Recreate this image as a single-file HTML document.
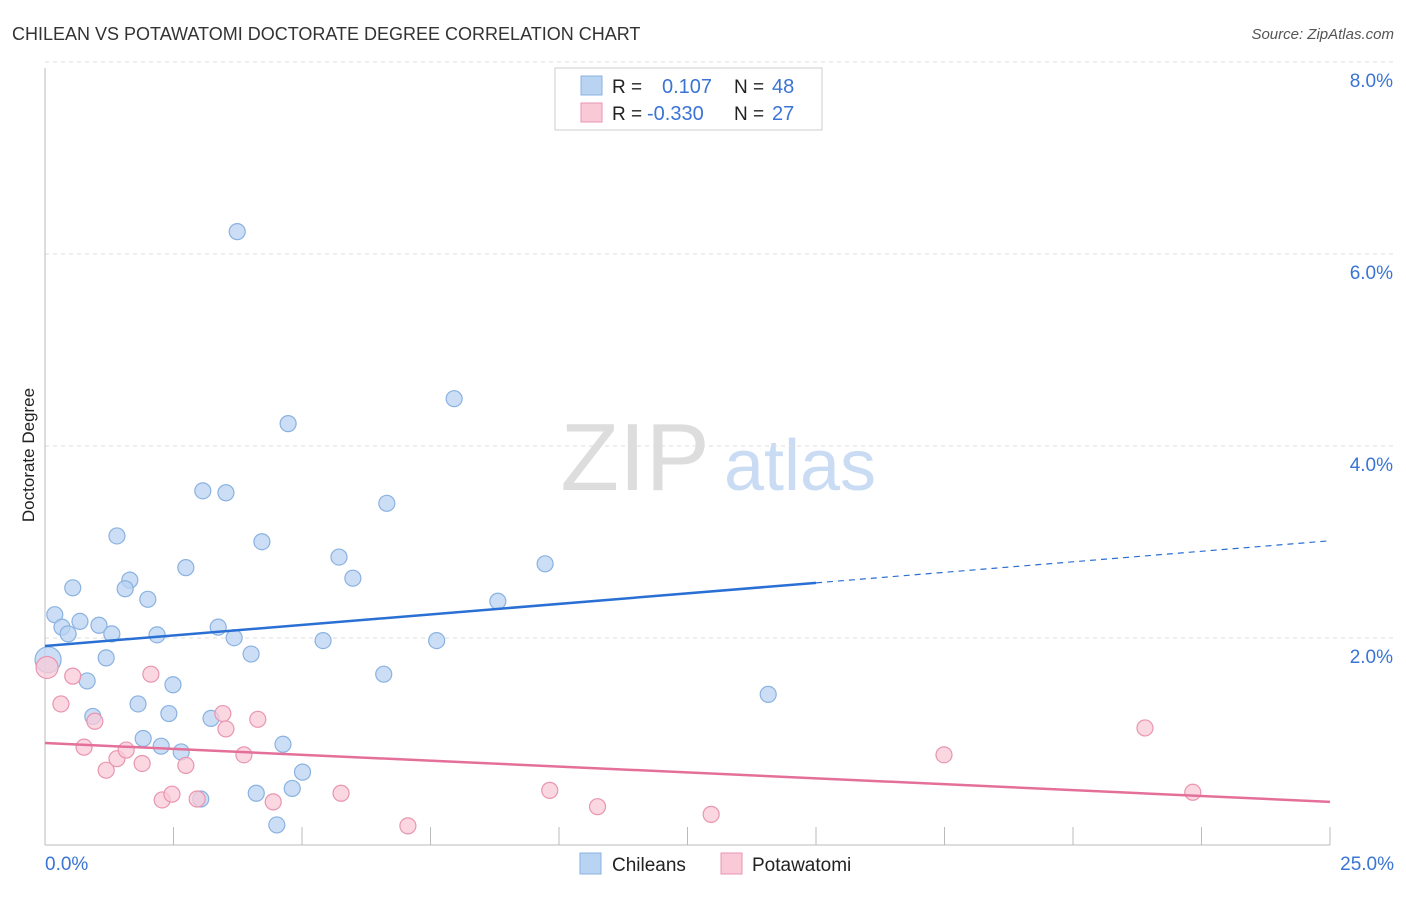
<!DOCTYPE html>
<html><head><meta charset="utf-8"><style>
body{margin:0;background:#fff;font-family:"Liberation Sans",sans-serif}
svg text{font-family:"Liberation Sans",sans-serif}
</style></head><body>
<svg id="c" width="1406" height="892">
<text x="12" y="40" font-size="18" fill="#333">CHILEAN VS POTAWATOMI DOCTORATE DEGREE CORRELATION CHART</text>
<text x="1394" y="39" font-size="15" fill="#555" text-anchor="end" font-style="italic">Source: ZipAtlas.com</text>
<text x="34" y="455" font-size="17" fill="#222" text-anchor="middle" transform="rotate(-90 34 455)">Doctorate Degree</text>
<g><text x="635" y="490" font-size="96" font-family="Liberation Serif" fill="#ddd" text-anchor="middle">ZIP</text><text x="800" y="490" font-size="72" fill="#c9dcf3" text-anchor="middle">atlas</text></g>
<g id="grid"></g><g id="axes"></g><g id="marks"></g>
<g>
<rect x="555" y="68" width="267" height="62" fill="#fff" stroke="#ccc"/>
<rect x="581" y="76" width="21" height="19" fill="#b9d3f3" stroke="#8ab2e0"/>
<rect x="581" y="103" width="21" height="19" fill="#f9c9d8" stroke="#e895b0"/>
<text x="612" y="93" font-size="19" fill="#222">R = </text><text x="662" y="93" font-size="20" fill="#3a74d4">0.107</text>
<text x="734" y="93" font-size="19" fill="#222">N = </text><text x="772" y="93" font-size="20" fill="#3a74d4">48</text>
<text x="612" y="120" font-size="19" fill="#222">R = </text><text x="647" y="120" font-size="20" fill="#3a74d4">-0.330</text>
<text x="734" y="120" font-size="19" fill="#222">N = </text><text x="772" y="120" font-size="20" fill="#3a74d4">27</text>
</g>
<g>
<rect x="580" y="853" width="21" height="21" fill="#b9d3f3" stroke="#8ab2e0"/><text x="612" y="871" font-size="19" fill="#222">Chileans</text>
<rect x="721" y="853" width="21" height="21" fill="#f9c9d8" stroke="#e895b0"/><text x="752" y="871" font-size="19" fill="#222">Potawatomi</text>
</g>
</svg>
<script>
const yTicks=[2,4,6,8];
const xTickLabels=["0.0%","25.0%"];
const chileansX=[3.74,4.73,7.96,3.07,3.52,6.65,1.40,4.22,5.72,9.73,2.74,5.99,1.65,0.54,1.56,2.00,8.81,0.19,0.68,0.33,1.05,0.45,1.30,2.18,3.37,3.68,5.41,7.62,4.01,1.19,0.06,6.59,0.82,2.49,14.07,1.81,0.93,2.41,3.23,1.91,2.26,2.65,4.63,5.01,4.81,4.11,3.03,4.51];
const chileansY=[6.41,4.41,4.67,3.71,3.69,3.58,3.24,3.18,3.02,2.95,2.91,2.80,2.78,2.70,2.69,2.58,2.56,2.42,2.35,2.29,2.31,2.22,2.22,2.21,2.29,2.18,2.15,2.15,2.01,1.97,1.95,1.80,1.73,1.69,1.59,1.49,1.36,1.39,1.34,1.13,1.05,0.99,1.07,0.78,0.61,0.56,0.50,0.23];
const potX=[0.04,0.31,0.54,2.06,0.97,0.76,1.19,1.40,1.58,1.89,2.74,2.28,2.47,2.96,3.46,3.52,4.14,3.87,4.44,5.76,7.06,9.82,10.75,12.96,17.49,21.40,22.33];
const potY=[1.87,1.49,1.78,1.80,1.31,1.04,0.80,0.92,1.01,0.87,0.85,0.49,0.55,0.50,1.39,1.23,1.33,0.96,0.47,0.56,0.22,0.59,0.42,0.34,0.96,1.24,0.57];
const blueTrend=[2.094,3.19], pinkTrend=[1.083,0.47];
const NS="http://www.w3.org/2000/svg";
const X=v=>45+v*(1285/25), Y=v=>847-v*96;
function mk(t,a,p){const e=document.createElementNS(NS,t);for(const k in a)e.setAttribute(k,a[k]);p.appendChild(e);return e;}
const grid=document.getElementById('grid'),axes=document.getElementById('axes'),marks=document.getElementById('marks');
yTicks.forEach(t=>{
 const l=mk('line',{x1:45,x2:1394,y1:Y(t)-17,y2:Y(t)-17,stroke:'#ddd','stroke-dasharray':'4,4'},grid);
 
 
 const tx=mk('text',{x:1393,y:Y(t)-17+25,'font-size':19,fill:'#3a74d4','text-anchor':'end'},grid);
 tx.textContent=t.toFixed(1)+'%';
 
 
});
mk('line',{x1:45,x2:45,y1:68,y2:845,stroke:'#bbb'},axes);
mk('line',{x1:45,x2:1330,y1:845,y2:845,stroke:'#bbb'},axes);
for(let i=1;i<=10;i++){const t=mk('line',{x1:X(i*2.5),x2:X(i*2.5),y1:827,y2:845,stroke:'#bbb'},axes);
 
 }
xTickLabels.forEach((s,i)=>{const t=mk('text',{x:i?1394:45,y:870,'font-size':19,fill:'#3a74d4','text-anchor':i?'end':'start'},axes);t.textContent=s;
 
 });
chileansX.forEach((x,i)=>{const big=i===30;const c=mk('circle',{cx:X(x),cy:Y(chileansY[i])-0,r:big?13:8,fill:'#b9d3f3','fill-opacity':0.75,stroke:'#8ab2e0','stroke-width':1.2},marks);
 
 });
potX.forEach((x,i)=>{const c=mk('circle',{cx:X(x),cy:Y(potY[i]),r:i===0?11:8,fill:'#f9c9d8','fill-opacity':0.75,stroke:'#e895b0','stroke-width':1.2},marks);
 
 });
const bAt=x=>blueTrend[0]+(blueTrend[1]-blueTrend[0])*x/25;
let l=mk('line',{x1:X(0),y1:Y(bAt(0)),x2:X(15),y2:Y(bAt(15)),stroke:'#2a6fd4','stroke-width':2.5},marks);


l=mk('line',{x1:X(15),y1:Y(bAt(15)),x2:X(25),y2:Y(bAt(25)),stroke:'#2a6fd4','stroke-width':1.2,'stroke-dasharray':'6,5'},marks);


l=mk('line',{x1:X(0),y1:Y(pinkTrend[0]),x2:X(25),y2:Y(pinkTrend[1]),stroke:'#e4709a','stroke-width':2.5},marks);


</script>
</body></html>
